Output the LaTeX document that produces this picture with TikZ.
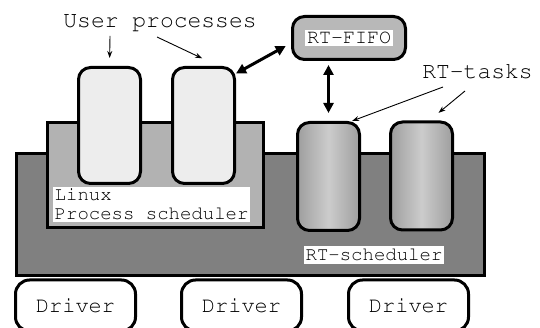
\documentclass[tikz,border=0pt]{standalone}
\usepackage[T1]{fontenc}
\usepackage{courier}
\usetikzlibrary{arrows.meta}

\tikzset{
  area/.style={draw, line width=3pt, inner sep=0pt},
  box/.style={draw, line width=3pt, rounded corners=12pt, inner sep=0pt},
  proc/.style={box, fill=black!7, minimum width=62pt, minimum height=116pt},
  rttask/.style={box, left color=black!38, right color=black!38, middle color=black!20,
    minimum width=62pt, minimum height=108pt},
  driver/.style={box, rounded corners=14pt, minimum width=120pt, minimum height=51pt,
    font=\ttfamily\fontsize{22}{22}\selectfont},
  lbl/.style={font=\ttfamily\fontsize{23}{23}\selectfont},
  tag/.style={fill=white, inner sep=1.5pt, font=\ttfamily\fontsize{19}{19}\selectfont},
  pipe/.style={{Triangle[length=10pt,width=10pt]}-{Triangle[length=10pt,width=10pt]}, line width=3pt},
  pointer/.style={-{Stealth[length=7pt,width=5pt]}, line width=0.9pt}
}

\begin{document}
\begin{tikzpicture}[x=1pt, y=-1pt]
\useasboundingbox (0,0) rectangle (540,328);

%schedulers
\node[area, fill=black!50, minimum width=468pt, minimum height=122pt] (rtsched) at (250.5,214.5) {};
\node[area, fill=black!30, minimum width=216pt, minimum height=105pt] (linux) at (155.5,175) {};

%user processes and rt tasks
\node[proc] (up1) at (109.5,125.5) {};
\node[proc] (up2) at (203.5,125.5) {};
\node[rttask] (rt1) at (328.5,176.5) {};
\node[rttask] (rt2) at (421.5,176) {};

%scheduler names
\node[tag, align=left, anchor=north west] (linuxtag) at (53,187) {Linux\\Process scheduler};
\node[tag, inner ysep=3pt, anchor=base] (rttag) at (374,261) {RT-scheduler};

%drivers
\node[driver] (drv1) at (75.5,305.5) {Driver};
\node[driver] (drv2) at (241.5,305.5) {Driver};
\node[driver] (drv3) at (408.5,305.5) {Driver};

%fifo
\node[box, fill=black!28, minimum width=113pt, minimum height=43pt,
  font=\ttfamily\fontsize{20}{20}\selectfont] (fifo) at (349,38)
  {\setlength{\fboxsep}{2pt}\colorbox{white}{RT-FIFO}};

%labels
\node[lbl, anchor=base] (userlbl) at (160,28) {User processes};
\node[lbl, anchor=base] (rtlbl) at (477.5,79) {RT-tasks};

%arrow tails
\coordinate (u1) at (110,36);
\coordinate (u2) at (157,37);
\coordinate (t1) at (443,87);
\coordinate (t2) at (465,91);

\draw[pointer, shorten >=8pt] (u1) -- (up1.north);
\draw[pointer, shorten >=18pt] (u2) -- (up2.76);
\draw[pointer] (t1) -- (rt1.67);
\draw[pointer, shorten >=12pt] (t2) -- (rt2.82);

\draw[pipe, shorten >=6pt] (up2.58) -- (fifo.185);
\draw[pipe, shorten <=4pt, shorten >=8pt] (fifo.south -| rt1.north) -- (rt1.north);
\end{tikzpicture}
\end{document}
